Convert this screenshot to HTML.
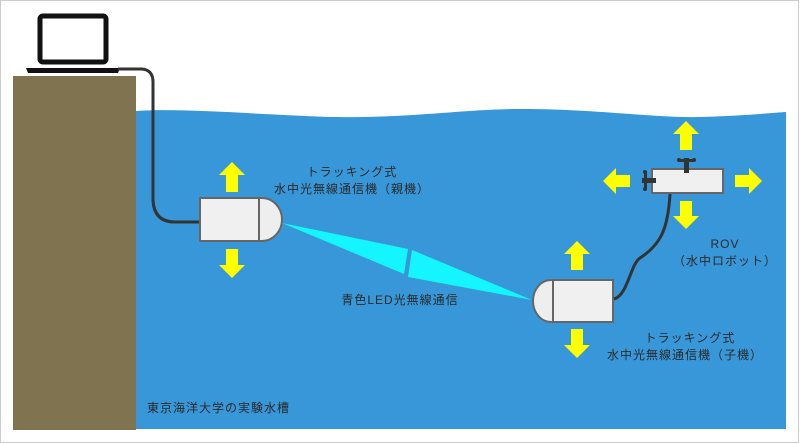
<!DOCTYPE html>
<html><head><meta charset="utf-8"><style>
html,body{margin:0;padding:0;background:#fff}
svg{display:block}
text{font-family:"Liberation Sans","Noto Sans CJK JP",sans-serif;font-size:12px;fill:#2a2a2a;letter-spacing:1px}
</style></head><body>
<svg width="800" height="444" viewBox="0 0 800 444" xmlns="http://www.w3.org/2000/svg">
<rect x="0" y="0" width="800" height="444" fill="#fff"/>
<rect x="0.5" y="0.5" width="798" height="442" fill="none" stroke="#ccc" stroke-width="1"/>
<path d="M136 111 C180 108 250 114 330 117 C420 118 460 109 520 109 C600 109 650 118 700 117 C740 116 770 113 786 112 L786 429 L136 429 Z" fill="#3897d9"/>
<rect x="13" y="76" width="123" height="354" fill="#807350"/>
<rect x="40" y="16" width="66" height="46" rx="3" fill="#fff" stroke="#111" stroke-width="5"/>
<path d="M26 68 L120 68 L118 73 L28 73 Z" fill="#111"/>
<path d="M118 69 L142 69 Q153 70 153 82 L153 200 Q154 222 175 222 L200 222" fill="none" stroke="#333" stroke-width="3"/>
<path d="M259 198 L262 198 A20 21.5 0 0 1 262 241 L259 241 Z" fill="#eee" stroke="#666" stroke-width="2"/>
<rect x="200" y="198" width="59" height="43" fill="#f0f0f0" stroke="#666" stroke-width="2"/>
<polygon points="282,223 408,249 404,274" fill="#14f5ff"/>
<polygon points="412,250 532,300 408,277" fill="#14f5ff"/>
<polygon points="232,162 245,175 238,175 238,192 226,192 226,175 219,175" fill="#ff0"/>
<polygon points="232,278 245,265 238,265 238,249 226,249 226,265 219,265" fill="#ff0"/>
<path d="M553 280 L551 280 A18 21 0 0 0 551 322 L553 322 Z" fill="#eee" stroke="#666" stroke-width="2"/>
<rect x="553" y="280" width="60" height="42" fill="#f0f0f0" stroke="#666" stroke-width="2"/>
<polygon points="577,241 590,254 583,254 583,270 571,270 571,254 564,254" fill="#ff0"/>
<polygon points="577,358 590,345 583,345 583,329 571,329 571,345 564,345" fill="#ff0"/>
<path d="M614 299 C628 295 630 265 640 258 C660 245 668 230 670 194" fill="none" stroke="#333" stroke-width="3"/>
<rect x="652" y="169" width="71" height="24" fill="#f0f0f0" stroke="#666" stroke-width="2"/>
<rect x="684" y="158" width="5" height="15" fill="#333"/>
<rect x="679" y="159" width="15" height="3" fill="#333"/>
<circle cx="679" cy="160" r="2" fill="#333"/><circle cx="694" cy="160" r="2" fill="#333"/>
<rect x="642" y="178" width="14" height="5" fill="#333"/>
<rect x="644" y="172" width="3" height="17" fill="#333"/>
<circle cx="645" cy="172" r="2" fill="#333"/><circle cx="645" cy="189" r="2" fill="#333"/>
<polygon points="686,121 699,134 692,134 692,150 680,150 680,134 673,134" fill="#ff0"/>
<polygon points="686,229 699,216 692,216 692,201 680,201 680,216 673,216" fill="#ff0"/>
<polygon points="603,181 616,168 616,175 630,175 630,187 616,187 616,194" fill="#ff0"/>
<polygon points="762,181 749,168 749,175 735,175 735,187 749,187 749,194" fill="#ff0"/>
<text x="352" y="176" text-anchor="middle">トラッキング式</text>
<text x="352" y="193" text-anchor="middle">水中光無線通信機（親機）</text>
<text x="400" y="304" text-anchor="middle">青色LED光無線通信</text>
<text x="725" y="248" text-anchor="middle">ROV</text>
<text x="725" y="265" text-anchor="middle">（水中ロボット）</text>
<text x="690" y="342" text-anchor="middle">トラッキング式</text>
<text x="685" y="359" text-anchor="middle">水中光無線通信機（子機）</text>
<text x="147" y="412">東京海洋大学の実験水槽</text>
</svg>
</body></html>
